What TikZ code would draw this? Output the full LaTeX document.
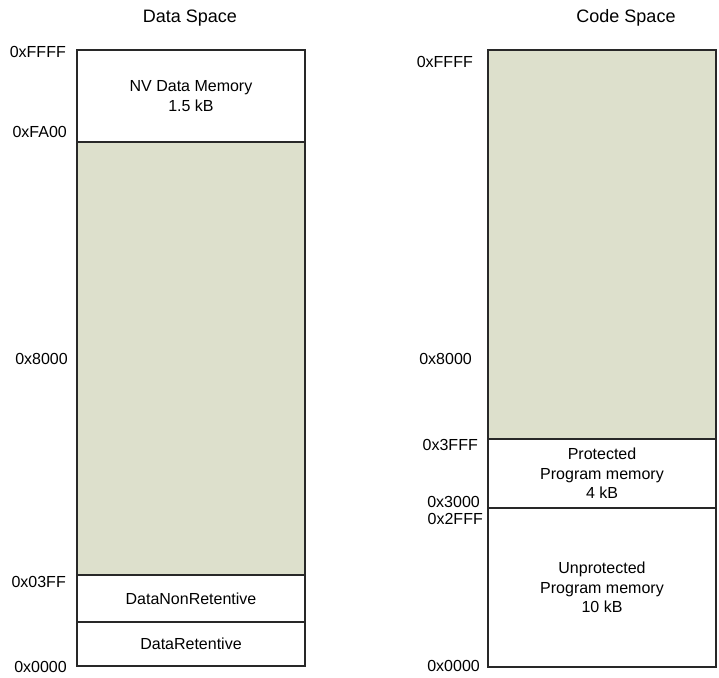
\documentclass[tikz,border=0pt]{standalone}
\usepackage{fontspec}
\setmainfont{Liberation Sans}
\definecolor{freec}{RGB}{221,224,204}
\definecolor{edgec}{RGB}{40,40,40}
\begin{document}
\begin{tikzpicture}[x=1pt,y=-1pt, font=\fontsize{16}{19.5}\selectfont,
  mem/.style={draw=edgec, line width=1.2pt, minimum width=228pt, minimum height=#1, anchor=north west, inner sep=0pt, outer sep=0pt, align=center},
  free/.style={mem=#1, fill=freec},
  addr/.style={anchor=base east, inner sep=0pt},
  ttl/.style={anchor=base, inner sep=0pt, font=\fontsize{18}{21}\selectfont}]
\useasboundingbox (0,0) rectangle (719,677);
% titles
\node[ttl] (dtitle) at (190,23) {Data Space};
\node[ttl] (ctitle) at (626,23) {Code Space};
% data space
\node[mem=92pt] (nv) at (77,50) {NV Data Memory\\1.5 kB};
\node[free=433pt] (dfree) at (77,142) {};
\node[mem=47pt] (nonret) at (77,575) {DataNonRetentive};
\node[mem=44pt] (ret) at (77,622) {DataRetentive};
% code space
\node[free=389pt] (cfree) at (488,50) {};
\node[mem=69pt] (prot) at (488,439) {Protected\\Program memory\\4 kB};
\node[mem=159pt] (unprot) at (488,508) {Unprotected\\Program memory\\10 kB};
% data addresses
\node[addr] (dffff) at (66,57) {0xFFFF};
\node[addr] (dfa00) at (67,137) {0xFA00};
\node[addr] (d8000) at (68,364) {0x8000};
\node[addr] (d03ff) at (66,587) {0x03FF};
\node[addr] (d0000) at (67,672) {0x0000};
% code addresses
\node[addr] (cffff) at (473,67) {0xFFFF};
\node[addr] (c8000) at (472,364) {0x8000};
\node[addr] (c3fff) at (478,450) {0x3FFF};
\node[addr] (c3000) at (480,507) {0x3000};
\node[addr] (c2fff) at (483,524) {0x2FFF};
\node[addr] (c0000) at (480,671) {0x0000};
\end{tikzpicture}
\end{document}
